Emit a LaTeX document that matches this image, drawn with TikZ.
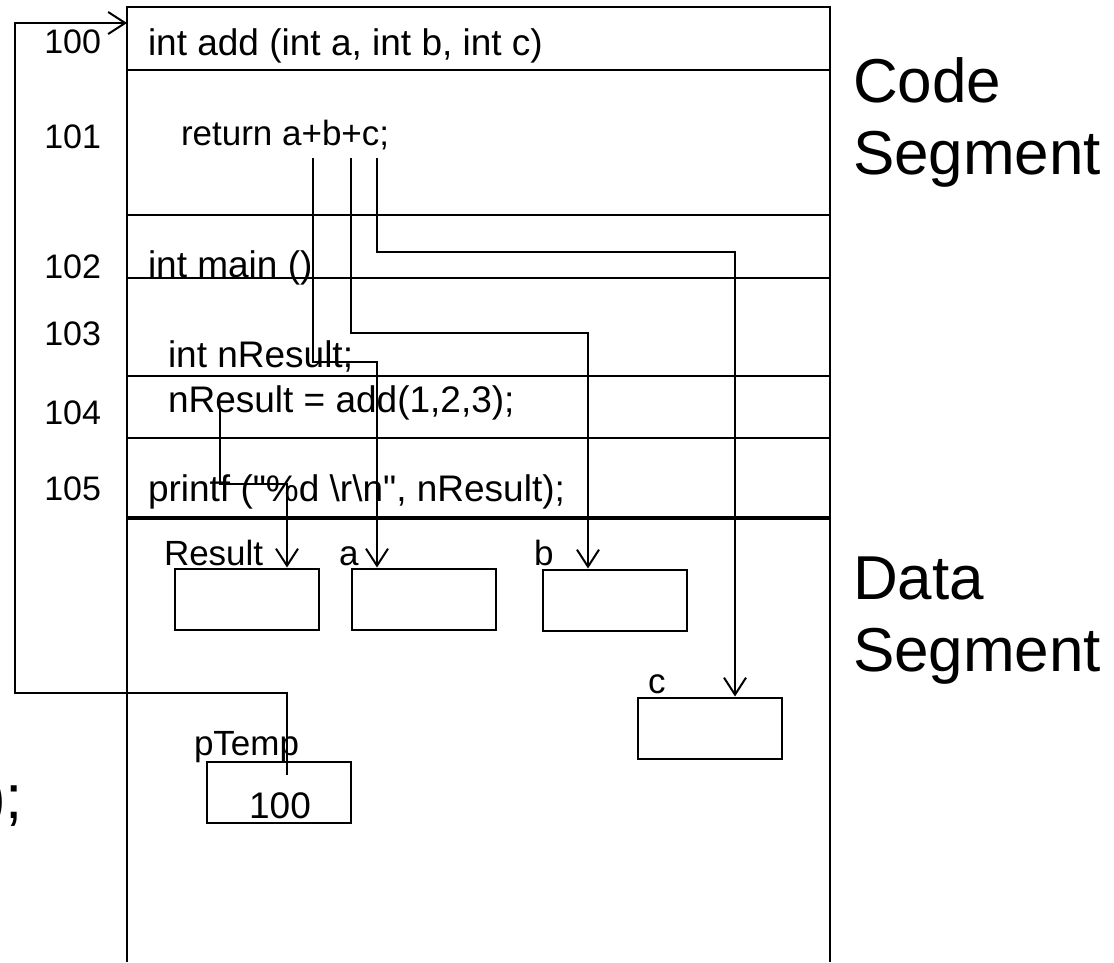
\documentclass[tikz,border=0pt]{standalone}
\usepackage{fontspec}
\setmainfont{Liberation Sans}[Ligatures=TeXOff]
\usetikzlibrary{arrows.meta,positioning}

\begin{document}
\begin{tikzpicture}[x=1pt,y=-1pt,>={Straight Barb[length=17pt,width=22pt]},line width=2pt]
\tikzstyle{T}=[inner sep=0,anchor=base west,font=\fontsize{37}{44}\selectfont]
\tikzstyle{W}=[inner sep=0,anchor=base west,font=\fontsize{35}{42}\selectfont]
\tikzstyle{N}=[inner sep=0,anchor=base east,font=\fontsize{34}{40}\selectfont]
\tikzstyle{L}=[inner sep=0,anchor=base west,font=\fontsize{62}{74}\selectfont]
\tikzstyle{V}=[draw,minimum width=144pt,minimum height=61pt,inner sep=0]
\useasboundingbox (0,0) rectangle (1114,962);
\clip (0,0) rectangle (1114,962);
% memory column
\draw (127,962) -- (127,7) -- (830,7) -- (830,962);
\foreach \y in {70,215,278,376,438} \draw (127,\y) -- (830,\y);
\draw[line width=4.5pt] (127,518) -- (830,518);
% addresses and code
\node[N] (n100) at (102,53) {100};
\node[T] (fadd) at (147,55) {int add (int a, int b, int c)};
\node[N] (n101) at (102,148) {101};
\node[W] (fret) at (180,145) {return a+b+c;};
\node[N] (n102) at (102,278) {102};
\node[T] (fmain) at (147,277) {int main ()};
\node[N] (n103) at (102,345) {103};
\node[T] (fdecl) at (167,367) {int nResult;};
\node[N] (n104) at (102,424) {104};
\node[T] (fcall) at (167,412) {nResult = add(1,2,3);};
\node[N] (n105) at (102,500) {105};
\node[T] (fprint) at (147,501) {printf ("\%d \textbackslash{}r\textbackslash{}n", nResult);};
\node[L] (codeA) at (852,102) {Code};
\node[L] (codeB) at (852,174) {Segment};
\node[L] (dataA) at (852,599) {Data};
\node[L] (dataB) at (852,671) {Segment};
\node[L,anchor=base east] (cut) at (24,818) {);};
% variables
\node[V] (res) at (246.5,599) {};
\node[V] (a) at (423.5,599) {};
\node[V] (b) at (615,600) {};
\node[V] (c) at (710,728) {};
\node[V] (ptemp) at (279,792) {};
\node[W] (lres) at (163,565) {Result};
\node[W] (la) at (338,565) {a};
\node[W] (lb) at (533,565) {b};
\node[W] (lc) at (647,693) {c};
\node[W] (lpt) at (193,755) {pTemp};
\node[T,anchor=base] (pval) at (280,818) {100};
% links
\coordinate (sa) at (313,158);
\coordinate (sb) at (351,158);
\coordinate (sc) at (377,158);
\coordinate (sr) at (220,408);
\coordinate (sp) at (287,775);
\coordinate (ka) at (377,362);
\coordinate (kb) at (588,333);
\coordinate (kc) at (735,252);
\coordinate (kr) at (287,484);
\coordinate (kp) at (15,693);
\coordinate (entry) at (127,23);
\draw[->] (sa) |- (ka) -- (ka |- a.north);
\draw[->] (sb) |- (kb) -- (kb |- b.north);
\draw[->] (sc) |- (kc) -- (kc |- c.north);
\draw[->] (sr) |- (kr) -- (kr |- res.north);
\draw[->] (sp) |- (kp) |- (entry);
\end{tikzpicture}
\end{document}
